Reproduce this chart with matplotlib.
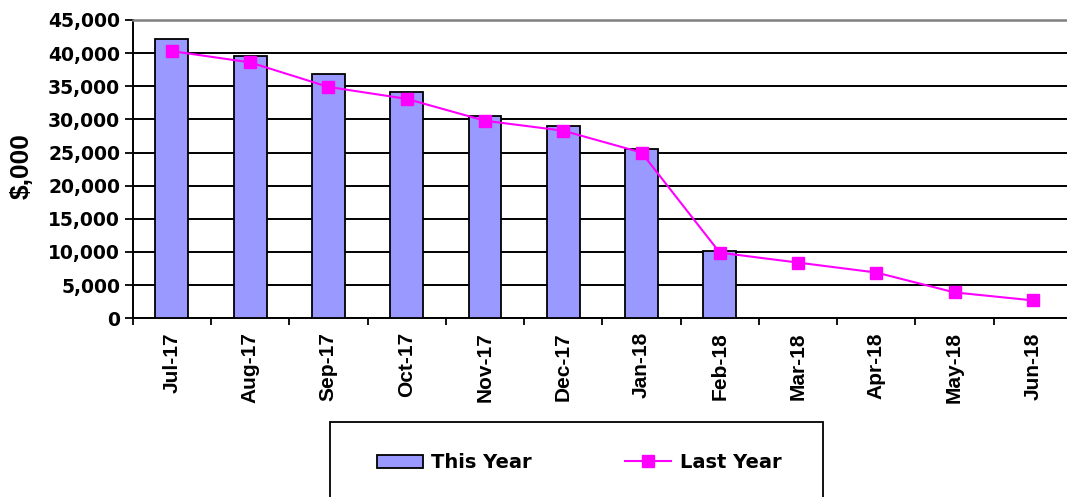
import matplotlib
matplotlib.use("Agg")
import matplotlib.pyplot as plt
from matplotlib.patches import Rectangle
from matplotlib.ticker import FuncFormatter, MultipleLocator
import numpy as np

# Monthly values, $,000
months = ["Jul-17", "Aug-17", "Sep-17", "Oct-17", "Nov-17", "Dec-17",
          "Jan-18", "Feb-18", "Mar-18", "Apr-18", "May-18", "Jun-18"]
this_year = [42200, 39500, 36800, 34100, 30500, 29000, 25600, 10200]
last_year = [40300, 38600, 34900, 33100, 29800, 28300, 25000, 9900,
             8400, 6900, 3900, 2700]

bar_color = "#9999FF"
line_color = "#FF00FF"

fig = plt.figure(figsize=(10.67, 4.97), dpi=100)
ax = fig.add_axes([0.1244, 0.3596, 0.8803, 0.6002])

x = np.arange(len(months))
bars = ax.bar(x[:len(this_year)], this_year, width=0.42, color=bar_color,
              edgecolor="black", linewidth=1.3, zorder=3, label="This Year")
line, = ax.plot(x, last_year, color=line_color, linewidth=1.5, marker="s",
                markersize=8.5, markerfacecolor=line_color,
                markeredgecolor=line_color, zorder=4, label="Last Year")

ax.set_xlim(-0.5, len(months) - 0.5)
ax.set_ylim(0, 45000)
ax.yaxis.set_major_locator(MultipleLocator(5000))
ax.yaxis.set_major_formatter(FuncFormatter(lambda v, p: f"{int(v):,}"))
ax.grid(axis="y", color="black", linewidth=1.4, zorder=0)
ax.set_axisbelow(True)

# ticks between categories, labels at the centres
ax.set_xticks(x)
ax.set_xticklabels(months, rotation=90, fontfamily="Liberation Sans",
                   fontweight="bold", fontsize=15)
ax.set_xticks(np.arange(-0.5, len(months)), minor=True)
ax.tick_params(axis="x", which="major", length=0, pad=10)
ax.tick_params(axis="x", which="minor", length=5, width=1.3, direction="out")
ax.tick_params(axis="y", length=6, width=1.3, direction="out", pad=3)
for lbl in ax.get_yticklabels():
    lbl.set_fontweight("bold")
    lbl.set_fontsize(13.5)

for side in ["left", "bottom"]:
    ax.spines[side].set_color("black")
    ax.spines[side].set_linewidth(1.4)
ax.spines["top"].set_color("#808080")
ax.spines["top"].set_linewidth(1.8)
ax.spines["right"].set_visible(False)

ax.set_ylabel("$,000", fontfamily="Liberation Sans", fontweight="bold",
              fontsize=19)
ax.yaxis.set_label_coords(-0.105, 0.51)

# legend box (runs off the bottom of the image)
fig.add_artist(Rectangle((330 / 1067, -0.1), (823 - 330) / 1067,
                         (1 - 421.7 / 497) + 0.1, transform=fig.transFigure,
                         facecolor="white", edgecolor="black", linewidth=1.3))
leg = fig.legend([bars, line], ["This Year", "Last Year"],
                 loc="center", bbox_to_anchor=(0.5427, 0.069), ncol=2,
                 frameon=False, prop={"weight": "bold", "size": 14},
                 handlelength=2.35, handleheight=0.7, handletextpad=0.45,
                 columnspacing=4.8)

fig.savefig("out.png", dpi=100)
